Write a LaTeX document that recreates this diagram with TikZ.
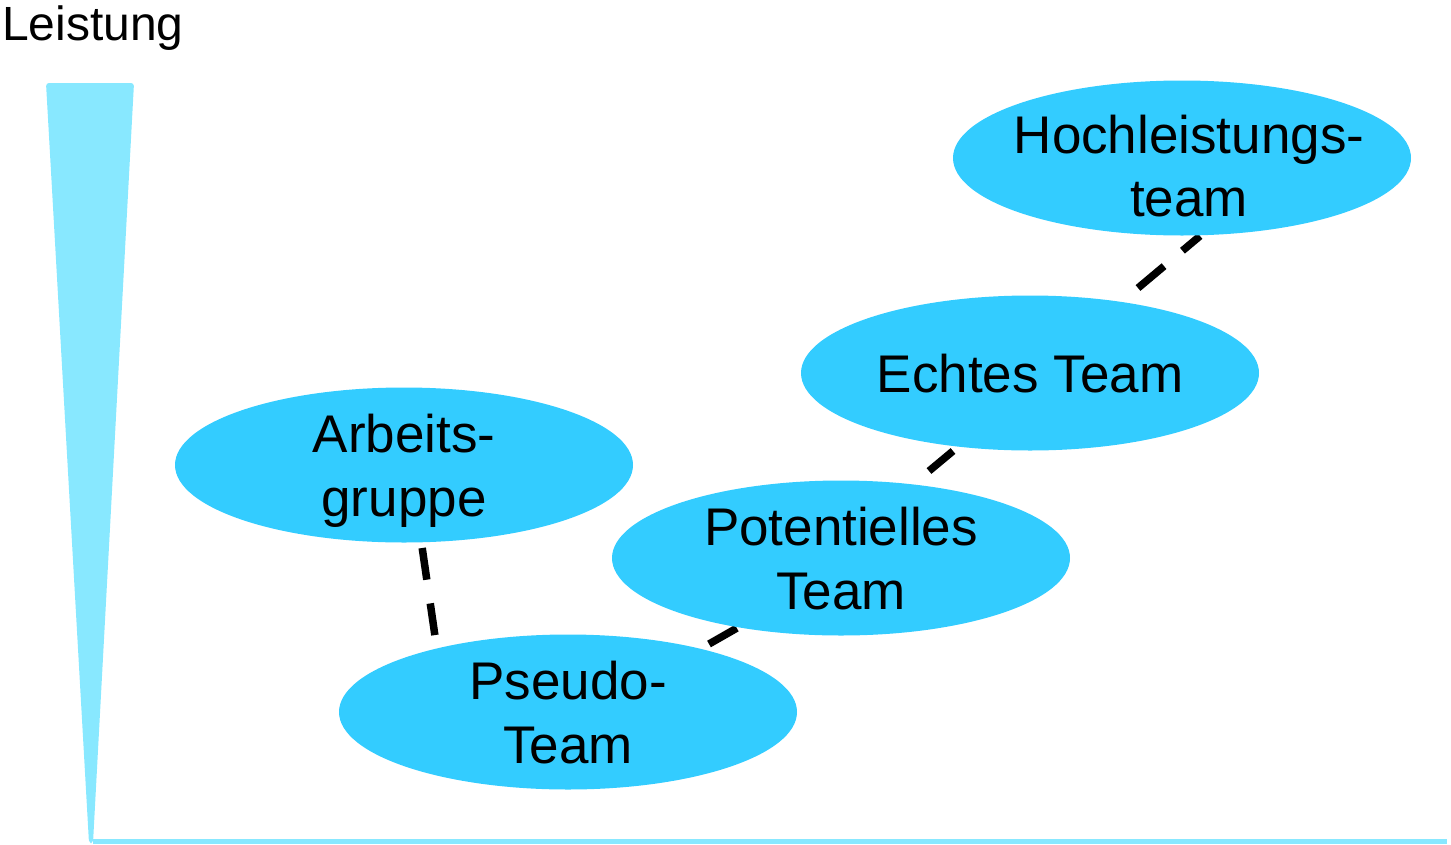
\documentclass[tikz,border=0pt]{standalone}
\usepackage{fontspec}
\setmainfont{Liberation Sans}
\usetikzlibrary{shapes.geometric,backgrounds}
\definecolor{stage}{RGB}{51,204,255}
\definecolor{axis}{RGB}{136,232,255}
\tikzset{
  stagebox/.style={ellipse, fill=stage, draw=none, minimum width=458pt, minimum height=155pt,
    inner sep=0pt},
  stagetext/.style={inner sep=0pt, align=center, font=\fontsize{53}{63.5}\selectfont},
  link/.style={line width=7.5pt, black, dash pattern=on 32pt off 24pt},
}
\begin{document}
\begin{tikzpicture}[x=1pt,y=-1pt]
\useasboundingbox (0,0) rectangle (1451,844);
% axis label
\node[anchor=base west, inner sep=0pt, font=\fontsize{48}{58}\selectfont] (lbl) at (2,40) {Leistung};
% vertical wedge and horizontal axis
\fill[axis, rounded corners=3pt] (46,83) -- (134,83) -- (93,843) -- (89,843) -- cycle;
\fill[axis] (93,839) rectangle (1447,844);
% stages
\node[stagebox] (arb)  at (404,465)  {};
\node[stagebox] (pseu) at (568,712)  {};
\node[stagebox] (pot)  at (841,558)  {};
\node[stagebox] (echt) at (1030,373) {};
\node[stagebox] (hoch) at (1182,158) {};
\node[stagetext] (arbT)  at ([yshift=-6pt]arb.center)  {Arbeits-\\gruppe};
\node[stagetext] (pseuT) at ([yshift=-0.5pt]pseu.center) {Pseudo-\\Team};
\node[stagetext] (potT)  at ([yshift=-0.5pt]pot.center)  {Potentielles\\Team};
\node[stagetext] (echtT) at ([yshift=-1pt]echt.center) {Echtes Team};
\node[stagetext] (hochT) at ([xshift=7pt,yshift=-8pt]hoch.center) {Hochleistungs-\\team};
% dashed links between the stages
\coordinate (l1a) at (422.2,548); \coordinate (l1b) at (435,636);
\coordinate (l2a) at (709,644);   \coordinate (l2b) at (737,628);
\coordinate (l3a) at (929,471);   \coordinate (l3b) at (953,451);
\coordinate (l4a) at (1138,288);  \coordinate (l4b) at (1200,236);
\begin{scope}[on background layer]
\draw[link] (l1a) -- (l1b);
\draw[link] (l2a) -- (l2b);
\draw[link] (l3a) -- (l3b);
\draw[link, dash pattern=on 34pt off 24pt] (l4a) -- (l4b);
\end{scope}
\end{tikzpicture}
\end{document}
